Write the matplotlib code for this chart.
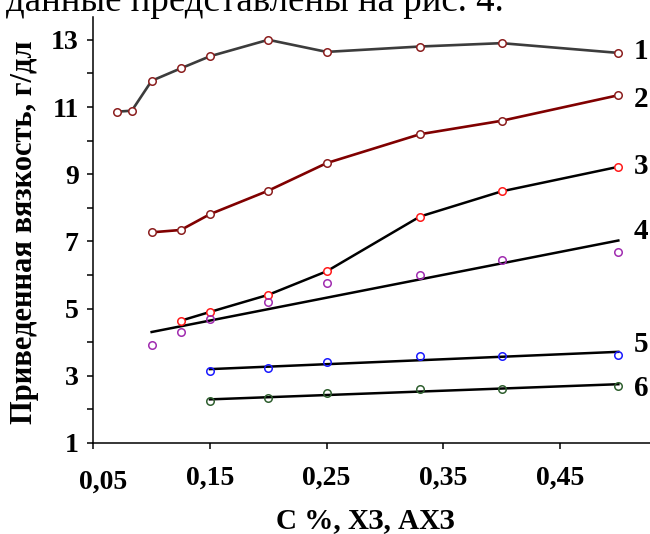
import numpy as np
import matplotlib
matplotlib.use("Agg")
import matplotlib.pyplot as plt
from matplotlib.ticker import MultipleLocator, FixedLocator
from matplotlib.transforms import ScaledTranslation

# ---- data ----
x1 = [0.07, 0.083, 0.10, 0.125, 0.15, 0.20, 0.25, 0.33, 0.40, 0.50]
y1 = [10.86, 10.89, 11.78, 12.15, 12.51, 13.00, 12.64, 12.80, 12.90, 12.61]

x2 = [0.10, 0.125, 0.15, 0.20, 0.25, 0.33, 0.40, 0.50]
y2 = [7.27, 7.34, 7.81, 8.51, 9.33, 10.19, 10.59, 11.35]

x3 = [0.125, 0.15, 0.20, 0.25, 0.33, 0.40, 0.50]
y3 = [4.64, 4.90, 5.41, 6.11, 7.74, 8.49, 9.22]

x4 = [0.10, 0.125, 0.15, 0.20, 0.25, 0.33, 0.40, 0.50]
y4 = [3.92, 4.29, 4.69, 5.21, 5.75, 6.00, 6.44, 6.67]

x5 = [0.15, 0.20, 0.25, 0.33, 0.40, 0.50]
y5 = [3.13, 3.23, 3.40, 3.58, 3.60, 3.62]

x6 = [0.15, 0.20, 0.25, 0.33, 0.40, 0.50]
y6 = [2.24, 2.34, 2.49, 2.60, 2.62, 2.70]

curve_labels = ["1", "2", "3", "4", "5", "6"]
label_y = [12.66, 11.23, 9.23, 7.29, 3.94, 2.63]

xticks = [0.05, 0.15, 0.25, 0.35, 0.45]
xtick_labels = ["0,05", "0,15", "0,25", "0,35", "0,45"]
yticks = [1, 3, 5, 7, 9, 11, 13]

xlabel = "С %, ХЗ, АХЗ"
ylabel = "Приведенная вязкость, г/дл"
top_text = "данные представлены на рис. 4."

# ---- figure ----
plt.rcParams['font.family'] = ['Liberation Serif', 'DejaVu Serif']
W, H = 650, 534
fig = plt.figure(figsize=(W / 100, H / 100), dpi=100)

ax_l, ax_r, ax_b, ax_t = 93.3, 650, 443, 17
ax = fig.add_axes([ax_l / W, (H - ax_b) / H, (ax_r - ax_l) / W, (ax_b - ax_t) / H])

ppu_x = 1166.75
ax.set_xlim(0.05, 0.05 + (ax_r - ax_l) / ppu_x)
ppu_y = 33.6
ax.set_ylim(1, 1 + (ax_b - ax_t) / ppu_y)

mk = dict(marker='o', markersize=5.4, markeredgewidth=1.1)

ax.plot(x1, y1, color='#3c3c3c', lw=1.9, markeredgecolor='#8b1e1e',
        markerfacecolor='white', zorder=3, **mk)
ax.plot(x2, y2, color='#800000', lw=1.9, markeredgecolor='#8b1e1e',
        markerfacecolor='white', zorder=3, **mk)
ax.plot(x3, y3, color='black', lw=1.8, markeredgecolor='#ff1a1a',
        markerfacecolor='white', zorder=3, **mk)

# linear trend lines for curves 4-6
for xs, ys, col in [(x4, y4, '#a02cb0'), (x5, y5, '#1a1aff'), (x6, y6, '#2f5f2f')]:
    xs = np.asarray(xs); ys = np.asarray(ys)
    k, b = np.polyfit(xs, ys, 1)
    xe = np.array([xs.min(), xs.max()])
    ax.plot(xe, k * xe + b, color='black', lw=1.8, zorder=2)
    ax.plot(xs, ys, linestyle='none', markeredgecolor=col,
            markerfacecolor='none', zorder=3, **mk)

for lab, ly in zip(curve_labels, label_y):
    ax.text(0.05 + (641 - ax_l) / ppu_x, ly, lab, fontsize=21, fontweight='bold',
            ha='center', va='center')

# axes styling
for s in ['top', 'right']:
    ax.spines[s].set_visible(False)
for s in ['left', 'bottom']:
    ax.spines[s].set_linewidth(1.1)

ax.xaxis.set_major_locator(FixedLocator(xticks))
ax.set_xticklabels(xtick_labels)
ax.yaxis.set_major_locator(FixedLocator(yticks))
ax.yaxis.set_minor_locator(MultipleLocator(1))
ax.tick_params(axis='both', which='both', direction='out', length=4.5, width=1.1)
ax.tick_params(axis='x', pad=12, labelsize=20)
ax.tick_params(axis='y', pad=6, labelsize=20)
for t in ax.get_xticklabels() + ax.get_yticklabels():
    t.set_fontweight('bold')

ax.set_xlabel(xlabel, fontsize=21, fontweight='bold')
ax.xaxis.set_label_coords((365 - ax_l) / (ax_r - ax_l), (ax_b - 521) / (ax_b - ax_t))
ax.xaxis.label.set_va('center')
ax.set_ylabel(ylabel, fontsize=22, fontweight='bold')
ax.yaxis.set_label_coords((25 - ax_l) / (ax_r - ax_l), (ax_b - 232) / (ax_b - ax_t))
ax.yaxis.label.set_va('center')

fig.canvas.draw()
first = ax.get_xticklabels()[0]
first.set_transform(first.get_transform() + ScaledTranslation(10 / 100, -4 / 100, fig.dpi_scale_trans))

fig.text(6 / W, 1 - 11 / H, top_text, fontsize=26.6, ha='left', va='baseline')

fig.savefig('out.png', dpi=100)
